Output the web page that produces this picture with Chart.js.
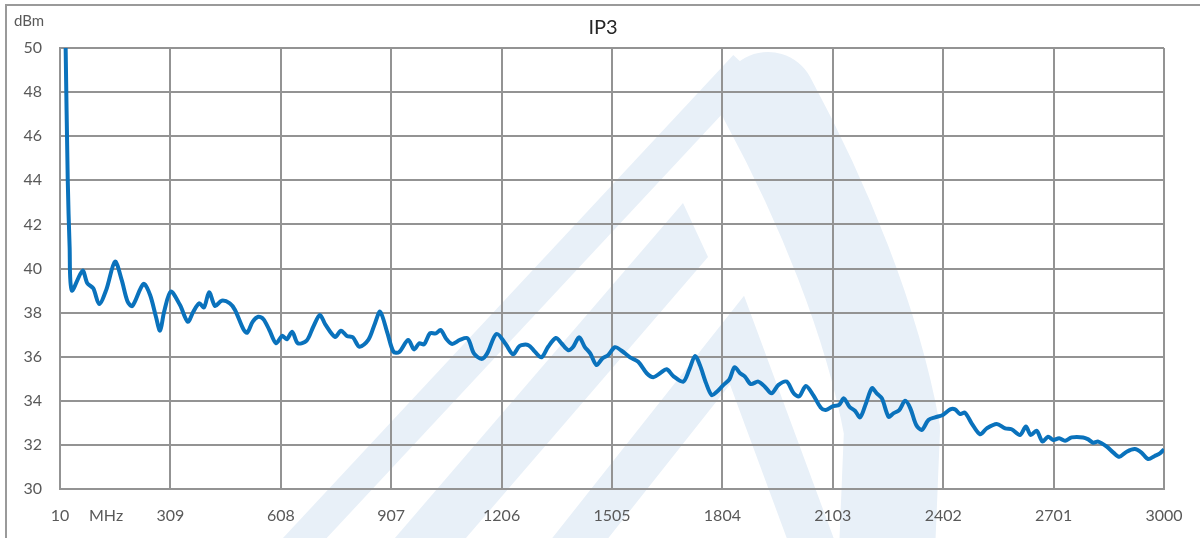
<!DOCTYPE html>
<html>
<head>
<meta charset="utf-8">
<script src="https://cdn.jsdelivr.net/npm/chart.js@4/dist/chart.umd.min.js"></script>
<style>
  body { margin: 0; background: #fff; }
  #wrap { width: 1200px; height: 538px; position: relative; }
</style>
</head>
<body>
<div id="wrap"><canvas id="Chart_IP3"></canvas></div>
<script>
// frequency, MHz
var freq = [25, 31, 36, 42, 71, 84, 100, 116, 135, 159, 177, 193, 206, 236, 254, 270, 281, 292, 310, 335,
  356, 371, 387, 400, 414, 430, 448, 470, 484, 507, 517, 532, 547, 561, 577, 595, 612, 624, 639, 654,
  678, 696, 714, 728, 755, 771, 787, 803, 821, 845, 863, 877, 897, 913, 928, 953, 969, 983, 996, 1012,
  1028, 1041, 1057, 1072, 1093, 1114, 1131, 1152, 1167, 1192, 1217, 1237, 1255, 1278, 1296, 1314, 1332, 1353, 1368, 1386,
  1399, 1416, 1431, 1446, 1463, 1479, 1495, 1513, 1531, 1554, 1576, 1599, 1617, 1635, 1653, 1671, 1698, 1714, 1730, 1743,
  1760, 1775, 1789, 1807, 1823, 1837, 1852, 1865, 1881, 1901, 1919, 1937, 1956, 1978, 1997, 2012, 2030, 2050, 2070, 2084,
  2104, 2120, 2133, 2148, 2163, 2177, 2193, 2209, 2222, 2236, 2254, 2267, 2283, 2299, 2313, 2329, 2344, 2362, 2380, 2401,
  2421, 2434, 2448, 2461, 2479, 2502, 2520, 2547, 2570, 2587, 2610, 2626, 2639, 2655, 2671, 2686, 2700, 2716, 2732, 2750,
  2781, 2795, 2808, 2822, 2845, 2863, 2879, 2899, 2921, 2939, 2957, 2975, 2989, 3000];
// IP3, dBm
var ip3 = [50.3, 44, 41, 39.0, 39.9, 39.33, 39.1, 38.39, 39.02, 40.31, 39.48, 38.5, 38.3, 39.3, 38.8, 37.8, 37.18, 38.04, 38.95, 38.34,
  37.59, 38.04, 38.42, 38.24, 38.92, 38.3, 38.54, 38.42, 38.12, 37.24, 37.09, 37.59, 37.81, 37.7, 37.21, 36.61, 36.95, 36.79, 37.13, 36.61,
  36.73, 37.36, 37.89, 37.48, 36.9, 37.18, 36.94, 36.88, 36.45, 36.76, 37.51, 38.04, 37.06, 36.23, 36.2, 36.76, 36.33, 36.61, 36.56, 37.06,
  37.06, 37.21, 36.79, 36.58, 36.76, 36.83, 36.15, 35.9, 36.15, 37.03, 36.58, 36.11, 36.49, 36.53, 36.23, 35.97, 36.45, 36.85, 36.61, 36.3,
  36.43, 36.88, 36.45, 36.15, 35.62, 35.92, 36.08, 36.43, 36.27, 35.97, 35.77, 35.25, 35.07, 35.25, 35.43, 35.12, 34.87, 35.4, 36.03, 35.62,
  34.79, 34.26, 34.41, 34.72, 34.97, 35.52, 35.25, 35.1, 34.76, 34.87, 34.64, 34.34, 34.72, 34.87, 34.34, 34.2, 34.67, 34.26, 33.7, 33.58,
  33.76, 33.81, 34.11, 33.73, 33.55, 33.25, 33.89, 34.57, 34.34, 34.11, 33.28, 33.43, 33.58, 34.0, 33.66, 32.9, 32.68, 33.13, 33.25, 33.36,
  33.61, 33.61, 33.4, 33.46, 32.98, 32.48, 32.75, 32.95, 32.75, 32.71, 32.45, 32.83, 32.45, 32.64, 32.15, 32.37, 32.22, 32.3, 32.19, 32.34,
  32.34, 32.25, 32.1, 32.15, 31.92, 31.65, 31.46, 31.69, 31.81, 31.65, 31.36, 31.5, 31.62, 31.8];

var xMin = 10, xMax = 3000, xStep = 299;
var yMin = 30, yMax = 50, yStep = 2;

var points = freq.map(function (f, i) { return { x: f, y: ip3[i] }; });

var gridColor = '#939393';
var textColor = '#595959';
var fontName = 'Lato, "Open Sans", sans-serif';

function poly(c, pts) {
  c.beginPath();
  c.moveTo(pts[0][0], pts[0][1]);
  for (var i = 1; i < pts.length; i++) c.lineTo(pts[i][0], pts[i][1]);
  c.closePath();
  c.fill();
}

// faint logo in the background, frame and extra labels
var decor = {
  id: 'decor',
  beforeDraw: function (chart) {
    var c = chart.ctx;
    c.save();
    c.strokeStyle = c.fillStyle = '#E8F0F8';
    c.lineJoin = 'round';
    // outer thin left leg
    c.lineCap = 'butt';
    c.lineWidth = 32;
    c.beginPath();
    c.moveTo(275, 570);
    c.lineTo(745, 66);
    c.stroke();
    // outer thick right leg with rounded top
    c.lineCap = 'round';
    c.lineWidth = 96;
    c.beginPath();
    c.moveTo(768, 100);
    c.bezierCurveTo(822, 200, 872, 320, 892, 430);
    c.lineTo(885, 600);
    c.stroke();
    // middle leg
    poly(c, [[683, 203], [708, 257], [447, 560], [376, 560]]);
    // inner chevron
    c.lineCap = 'butt';
    c.lineJoin = 'miter';
    c.lineWidth = 44;
    c.beginPath();
    c.moveTo(555, 570);
    c.lineTo(737, 340);
    c.lineTo(822, 570);
    c.stroke();
    c.restore();
  },
  afterDraw: function (chart) {
    var c = chart.ctx;
    c.save();
    c.strokeStyle = '#9a9a9a';
    c.lineWidth = 2;
    c.beginPath();
    c.moveTo(6, 545);
    c.lineTo(6, 5);
    c.lineTo(1205, 5);
    c.stroke();
    c.fillStyle = textColor;
    c.textBaseline = 'middle';
    c.textAlign = 'left';
    c.font = '15px ' + fontName;
    c.fillText('dBm', 14, 21);
    c.font = '16px ' + fontName;
    c.fillText('MHz', 89, 516);
    c.fillStyle = '#262626';
    c.font = '20px ' + fontName;
    c.textAlign = 'center';
    c.fillText('IP3', 603, 28);
    c.restore();
  }
};

var ctx = document.getElementById('Chart_IP3');
var chart = new Chart(ctx, {
  type: 'line',
  data: {
    datasets: [{
      label: 'IP3',
      data: points,
      borderColor: '#0A72BC',
      borderWidth: 4,
      pointRadius: 0,
      tension: 0.3,
      fill: false
    }]
  },
  options: {
    responsive: true,
    maintainAspectRatio: false,
    animation: false,
    layout: { padding: { top: 48, right: 36, left: 0, bottom: 0 } },
    plugins: {
      legend: { display: false },
      tooltip: { enabled: false }
    },
    scales: {
      x: {
        type: 'linear',
        min: xMin,
        max: xMax,
        ticks: {
          stepSize: xStep,
          autoSkip: false,
          maxRotation: 0,
          color: textColor,
          font: { family: fontName, size: 16 },
          padding: 17,
          callback: function (v) { return String(Math.round(v)); }
        },
        grid: { color: gridColor, lineWidth: 2, drawTicks: false },
        border: { color: gridColor, width: 2 },
        afterFit: function (s) { s.height = 49; }
      },
      y: {
        min: yMin,
        max: yMax,
        ticks: {
          stepSize: yStep,
          color: textColor,
          font: { family: fontName, size: 16 },
          padding: 18
        },
        grid: { color: gridColor, lineWidth: 2, drawTicks: false },
        border: { color: gridColor, width: 2 },
        afterFit: function (s) { s.width = 60; }
      }
    }
  },
  plugins: [decor]
});
</script>
</body>
</html>
